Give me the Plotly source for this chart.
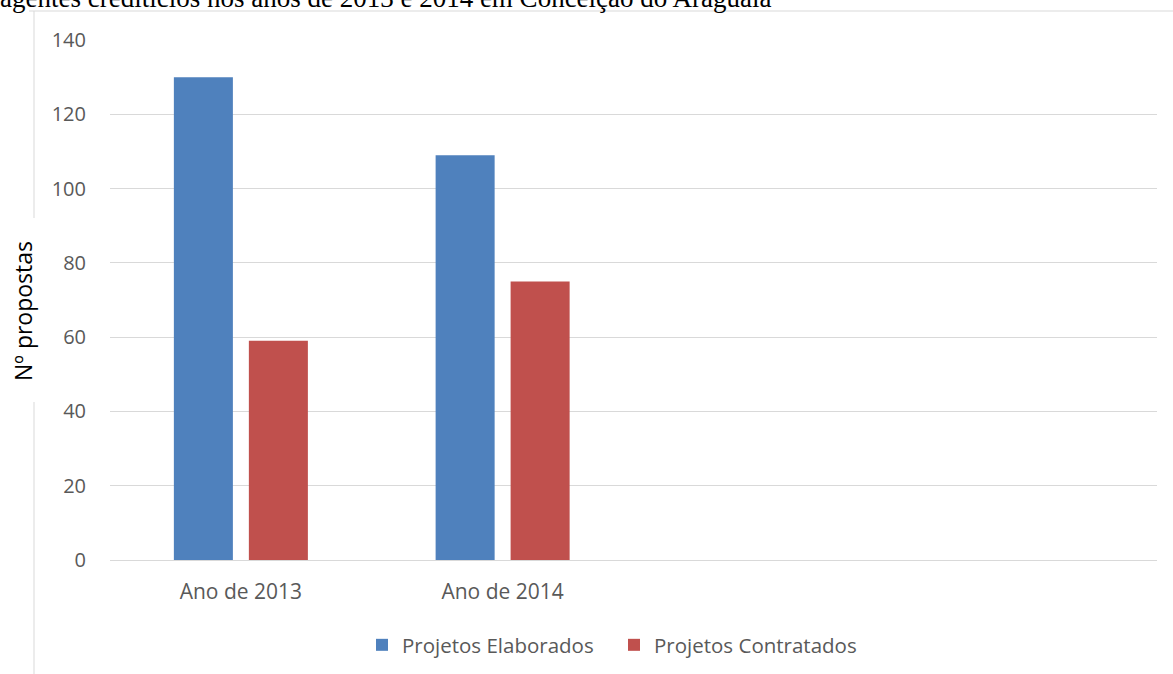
import plotly.graph_objects as go

categories = ["Ano de 2013", "Ano de 2014"]
elaborados = [130, 109]
contratados = [59, 75]
series_names = ["Projetos Elaborados", "Projetos Contratados"]
y_title = "Nº propostas"
title_text = "agentes creditícios nos anos de 2013 e 2014 em Conceição do Araguaia"

W, H = 1173, 674
ML, MR, MT, MB = 110, 16, 40, 114
PW, PH = W - ML - MR, H - MT - MB

def px(x):
    return (x - ML) / PW

def py(y):
    return (H - MB - y) / PH

FONT = "Open Sans"
TICK_COLOR = "#595959"
GRID = "#D9D9D9"

fig = go.Figure()
fig.add_trace(go.Bar(x=categories, y=elaborados, name=series_names[0],
                     marker=dict(color="#4F81BD", line=dict(width=0))))
fig.add_trace(go.Bar(x=categories, y=contratados, name=series_names[1],
                     marker=dict(color="#C0504D", line=dict(width=0))))

fig.update_layout(
    width=W, height=H,
    margin=dict(l=ML, r=MR, t=MT, b=MB, autoexpand=False),
    paper_bgcolor="white", plot_bgcolor="white",
    barmode="group", bargap=0.427, bargroupgap=0.213,
    font=dict(family=FONT, size=20, color=TICK_COLOR),
    showlegend=True,
    legend=dict(orientation="h", x=px(362), xanchor="left", y=py(645), yanchor="middle",
                font=dict(family=FONT, size=20.5, color=TICK_COLOR),
                itemsizing="constant", traceorder="normal", itemwidth=30,
                entrywidth=207, entrywidthmode="pixels",
                bgcolor="rgba(0,0,0,0)"),
    xaxis=dict(type="category", range=[-0.5, 3.5], showgrid=False, showline=False,
               ticks="", tickfont=dict(family=FONT, size=21, color=TICK_COLOR),
               ticklabelstandoff=17, zeroline=False, fixedrange=True),
    yaxis=dict(range=[0, 140], dtick=20, showgrid=True, gridcolor=GRID, gridwidth=1,
               zeroline=True, zerolinecolor=GRID, zerolinewidth=1, showline=False,
               ticks="", tickfont=dict(family=FONT, size=20, color=TICK_COLOR),
               ticklabelstandoff=23, fixedrange=True),
)

# outer chart frame (partial, as in the source image)
border = dict(color="#D9D9D9", width=1)
fig.add_shape(type="line", xref="paper", yref="paper", x0=px(29), x1=px(W), y0=py(11), y1=py(11), line=border)
fig.add_shape(type="line", xref="paper", yref="paper", x0=px(34), x1=px(34), y0=py(11), y1=py(218), line=border)
fig.add_shape(type="line", xref="paper", yref="paper", x0=px(34), x1=px(34), y0=py(402), y1=py(H), line=border)

# y-axis title
fig.add_annotation(text=y_title, xref="paper", yref="paper", x=px(23), y=py(311),
                   xanchor="center", yanchor="middle", textangle=-90, showarrow=False,
                   font=dict(family=FONT, size=23, color="#000000"))

# cut-off caption text at top
fig.add_annotation(text=title_text, xref="paper", yref="paper", x=px(-2), y=py(15),
                   xanchor="left", yanchor="bottom", showarrow=False,
                   font=dict(family="Liberation Serif", size=27, color="#000000"))

fig.write_html("out.html", config={"displayModeBar": False},
               post_script="document.body.style.margin='0';")
